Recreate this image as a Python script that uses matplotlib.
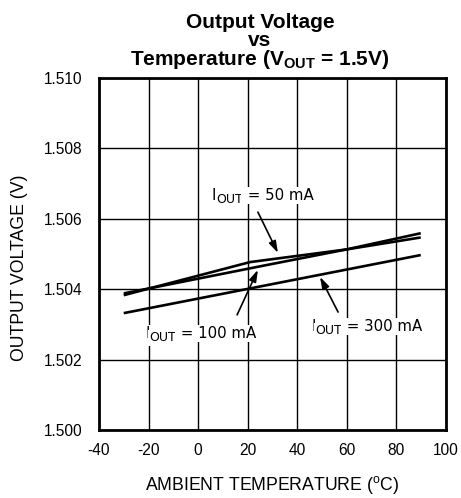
import matplotlib
matplotlib.use("Agg")
import matplotlib.pyplot as plt
from matplotlib.transforms import offset_copy

plt.rcParams['font.family'] = ['Liberation Sans', 'DejaVu Sans']
plt.rcParams['mathtext.fontset'] = 'custom'
plt.rcParams['mathtext.rm'] = 'Liberation Sans'
plt.rcParams['mathtext.bf'] = 'Liberation Sans:bold'
plt.rcParams['mathtext.it'] = 'Liberation Sans:italic'
plt.rcParams['axes.unicode_minus'] = False

# Data
temp_50 = [-30, 21, 60, 90]
vout_50 = [1.50383, 1.50477, 1.50513, 1.50559]
temp_100 = [-30, 28, 60, 90]
vout_100 = [1.50388, 1.50469, 1.50513, 1.50547]
temp_300 = [-30, 90]
vout_300 = [1.50332, 1.50497]

xticks = [-40, -20, 0, 20, 40, 60, 80, 100]
yticks = [1.500, 1.502, 1.504, 1.506, 1.508, 1.510]
ytick_labels = ["1.500", "1.502", "1.504", "1.506", "1.508", "1.510"]

DPI = 100
fig = plt.figure(figsize=(4.61, 4.98), dpi=DPI)
ax = fig.add_axes([99/461, 1-430/498, (445.5-99)/461, (430-78)/498])

ax.set_xlim(-40, 100)
ax.set_ylim(1.500, 1.510)
ax.set_xticks(xticks)
ax.set_yticks(yticks)
ax.set_yticklabels(ytick_labels)
ax.grid(True, color='black', linewidth=1.0, zorder=1)
ax.set_axisbelow(True)
ax.tick_params(length=0, labelsize=11.2)
ax.tick_params(axis='y', pad=12)
ax.tick_params(axis='x', pad=9.5)
for s in ax.spines.values():
    s.set_linewidth(2)
    s.set_zorder(5)

for t, v in [(temp_50, vout_50), (temp_100, vout_100), (temp_300, vout_300)]:
    ax.plot(t, v, color='black', linewidth=1.9, zorder=3, solid_capstyle='butt')

bb = dict(facecolor='white', edgecolor='none', pad=1.0)


def sub_label(xc, yb, rest, fs=10.8, subfs=9.0, drop=2.4, family='DejaVu Sans'):
    parts = [("I", fs, 0.0), ("OUT", subfs, -drop), (rest, fs, 0.0)]
    texts = []
    for s, size, dy in parts:
        t = ax.text(xc, yb, s, fontsize=size, family=family, ha='left', va='baseline',
                    bbox=bb, zorder=4)
        texts.append((t, dy))
    fig.canvas.draw()
    r = fig.canvas.get_renderer()
    widths = []
    for t, dy in texts:
        t.set_bbox(None)
        widths.append(t.get_window_extent(r).width)
    total = sum(widths)
    x = -total / 2.0
    for (t, dy), w in zip(texts, widths):
        t.set_transform(offset_copy(ax.transData, fig=fig, x=x * 72.0 / DPI, y=dy, units='points'))
        t.set_bbox(bb)
        x += w


ap = dict(arrowstyle='-|>,head_length=0.7,head_width=0.22', color='black', lw=1.2, shrinkA=0, shrinkB=0)
sub_label(26.06, 1.506534, " = 50 mA")
ax.annotate("", xy=(32.3, 1.50503), xytext=(24.2, 1.50619), arrowprops=ap, zorder=4)
sub_label(1.21, 1.502614, " = 100 mA")
ax.annotate("", xy=(24.2, 1.50455), xytext=(15.8, 1.50327), arrowprops=ap, zorder=4)
sub_label(68.16, 1.502812, " = 300 mA")
ax.annotate("", xy=(49.3, 1.50435), xytext=(56.6, 1.50335), arrowprops=ap, zorder=4)

fig.text(20/461, 1-268/498, "OUTPUT VOLTAGE (V)", rotation=90, ha='center', va='center', fontsize=12.7)
fig.text(272/461, 1-485/498, r"AMBIENT TEMPERATURE ($^{\mathrm{o}}$C)", ha='center', va='center', fontsize=12.7)

fig.text(260/461, 1-65/498, "Output Voltage\nvs\n" + r"Temperature (V$_{\mathbf{OUT}}$ = 1.5V)",
         ha='center', va='baseline', multialignment='center', linespacing=0.9,
         fontsize=15, fontweight='bold')

fig.savefig("out.png", dpi=DPI)
